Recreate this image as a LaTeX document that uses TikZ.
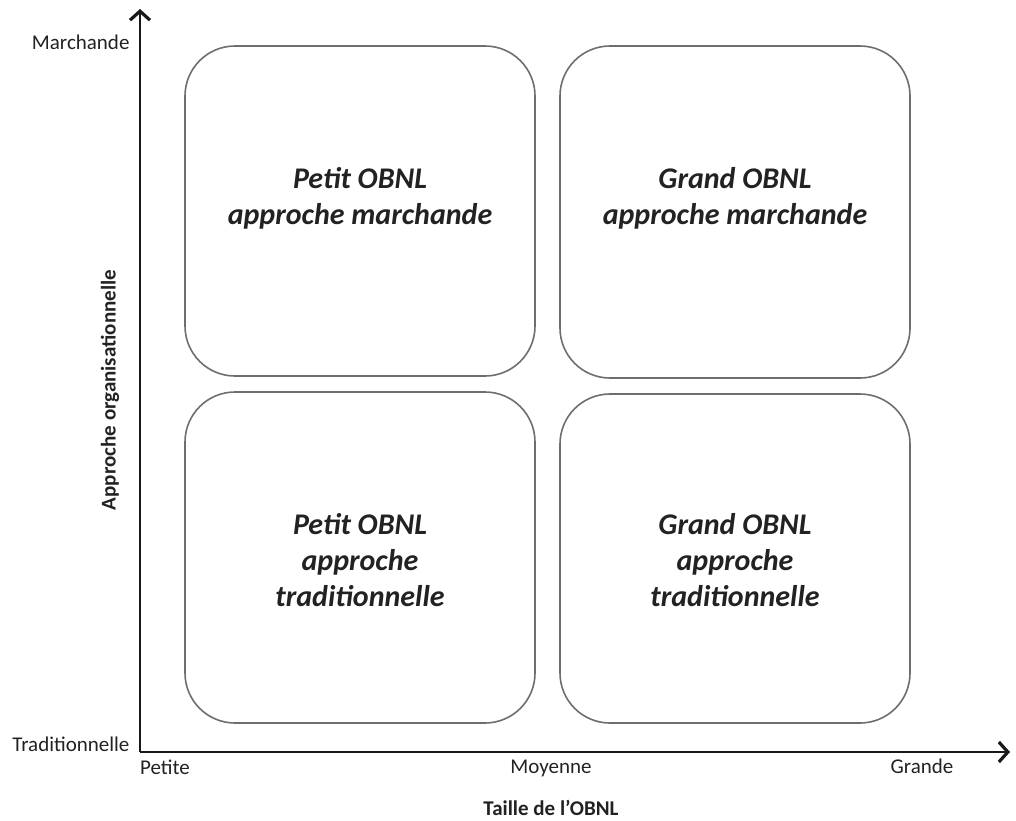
\documentclass[tikz,border=0pt]{standalone}
\usepackage{fontspec}
\setmainfont{Carlito}
\usetikzlibrary{arrows.meta}
\definecolor{boxgray}{HTML}{6E6E6E}
\definecolor{txt}{HTML}{222222}
\begin{document}
\begin{tikzpicture}[x=1pt,y=-1pt,
  quad/.style={draw=boxgray, line width=1.6pt, rounded corners=50pt, minimum width=350pt, inner sep=0pt},
  quadtext/.style={font=\fontsize{30}{36}\selectfont\bfseries\itshape, align=center, text=txt},
  lab/.style={font=\fontsize{21}{25}\selectfont, text=txt},
  blab/.style={font=\fontsize{21}{25}\selectfont\bfseries, text=txt},
  axis/.style={draw=black!90, line width=2pt},
  tip/.style={-{Straight Barb[length=9pt,width=20pt,line width=3.2pt]}}]
\useasboundingbox (0,0) rectangle (1016,820);
% axes
\coordinate (O) at (140,752);
\coordinate (Ytop) at (140,9);
\coordinate (Xend) at (1010,752);
\draw[axis,tip] (O) -- (Ytop);
\draw[axis,tip] (O) -- (Xend);
% quadrants
\node[quad, minimum height=330pt] (tl) at (360,211) {};
\node[quad, minimum height=332pt] (tr) at (735,212) {};
\node[quad, minimum height=331pt] (bl) at (360,557.5) {};
\node[quad, minimum height=329pt] (br) at (735,558.5) {};
\node[quadtext] (tlt) at (360,198) {Petit OBNL\\approche marchande};
\node[quadtext] (trt) at (735,198) {Grand OBNL\\approche marchande};
\node[quadtext] (blt) at (360,560) {Petit OBNL\\approche\\traditionnelle};
\node[quadtext] (brt) at (735,560) {Grand OBNL\\approche\\traditionnelle};
% labels
\node[lab, anchor=east] (ymax) at (133,42) {Marchande};
\node[lab, anchor=east] (ymin) at (133,744) {Traditionnelle};
\node[lab] (xmin) at (165,767) {Petite};
\node[lab] (xmid) at (551,768) {Moyenne};
\node[lab] (xmax) at (922,766) {Grande};
\node[blab] (xtitle) at (551,808) {Taille de l’OBNL};
\node[blab, rotate=90] (ytitle) at (110,390) {Approche organisationnelle};
\end{tikzpicture}
\end{document}
